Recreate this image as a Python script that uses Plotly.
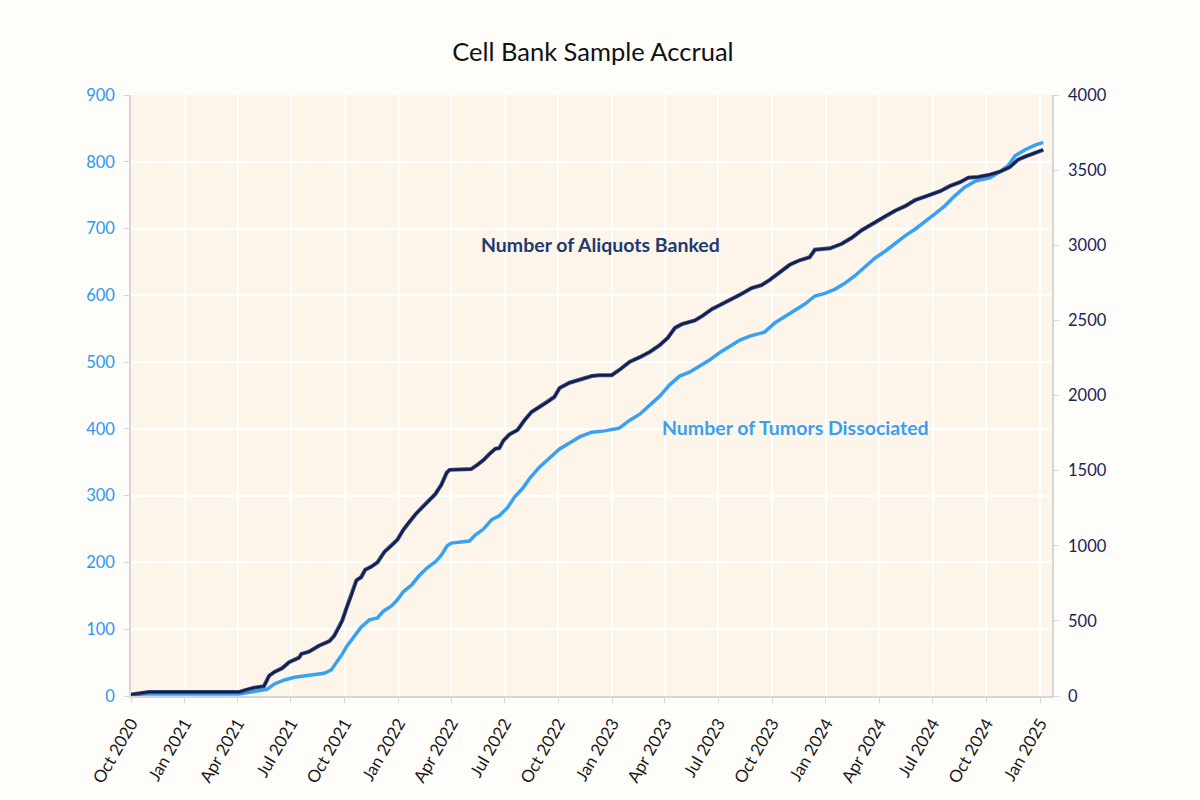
import plotly.graph_objects as go

# Number of Aliquots Banked (right axis)
aliquot_dates = [
    "2020-10-01", "2020-10-23", "2020-11-01", "2021-04-04", "2021-04-17", "2021-04-29",
    "2021-05-16", "2021-05-25", "2021-06-03", "2021-06-16", "2021-06-28", "2021-07-15",
    "2021-07-19", "2021-08-01", "2021-08-18", "2021-09-05", "2021-09-13", "2021-09-22",
    "2021-09-27", "2021-10-04", "2021-10-12", "2021-10-21", "2021-10-29", "2021-11-05",
    "2021-11-15", "2021-11-26", "2021-12-08", "2021-12-20", "2021-12-30", "2022-01-09",
    "2022-01-19", "2022-01-30", "2022-02-09", "2022-02-23", "2022-03-05", "2022-03-15",
    "2022-03-24", "2022-03-29", "2022-05-05", "2022-05-16", "2022-05-26", "2022-06-05",
    "2022-06-15", "2022-06-22", "2022-06-29", "2022-07-09", "2022-07-23", "2022-08-04",
    "2022-08-16", "2022-08-30", "2022-09-12", "2022-09-24", "2022-10-03", "2022-10-20",
    "2022-11-06", "2022-11-27", "2022-12-10", "2022-12-31", "2023-01-13", "2023-01-31",
    "2023-02-17", "2023-03-06", "2023-03-23", "2023-04-06", "2023-04-18", "2023-04-30",
    "2023-05-22", "2023-06-04", "2023-06-20", "2023-07-03", "2023-07-21", "2023-08-07",
    "2023-08-27", "2023-09-13", "2023-09-27", "2023-10-14", "2023-10-31", "2023-11-17",
    "2023-12-04", "2023-12-13", "2024-01-08", "2024-01-28", "2024-02-14", "2024-03-02",
    "2024-03-25", "2024-04-11", "2024-04-28", "2024-05-15", "2024-06-01", "2024-06-23",
    "2024-07-14", "2024-07-31", "2024-08-17", "2024-08-31", "2024-09-17", "2024-10-07",
    "2024-10-24", "2024-11-10", "2024-11-24", "2024-12-06", "2024-12-23", "2025-01-06",
]
aliquot_values = [
    10, 25, 27, 27, 45, 55,
    65, 135, 160, 185, 225, 255,
    280, 295, 335, 365, 400, 460,
    505, 585, 665, 770, 790, 840,
    860, 890, 960, 1000, 1040, 1105,
    1160, 1210, 1250, 1305, 1345, 1405,
    1485, 1505, 1510, 1540, 1570, 1610,
    1645, 1650, 1700, 1740, 1770, 1835,
    1890, 1925, 1955, 1990, 2050, 2085,
    2105, 2130, 2135, 2135, 2170, 2225,
    2255, 2290, 2335, 2385, 2450, 2475,
    2500, 2530, 2575, 2600, 2635, 2670,
    2715, 2735, 2770, 2820, 2870, 2900,
    2920, 2970, 2980, 3010, 3050, 3100,
    3155, 3195, 3230, 3260, 3300, 3330,
    3360, 3395, 3420, 3450, 3455, 3470,
    3490, 3520, 3570, 3590, 3615, 3635,
]

# Number of Tumors Dissociated (left axis)
tumor_dates = [
    "2020-10-01", "2020-10-23", "2021-04-04", "2021-04-29", "2021-05-21", "2021-06-03",
    "2021-06-20", "2021-07-07", "2021-08-01", "2021-08-27", "2021-09-08", "2021-09-18",
    "2021-09-27", "2021-10-05", "2021-10-17", "2021-10-29", "2021-11-12", "2021-11-26",
    "2021-12-06", "2021-12-20", "2021-12-30", "2022-01-09", "2022-01-23", "2022-02-05",
    "2022-02-19", "2022-03-05", "2022-03-15", "2022-03-25", "2022-04-01", "2022-05-02",
    "2022-05-12", "2022-05-26", "2022-06-09", "2022-06-22", "2022-07-06", "2022-07-18",
    "2022-08-01", "2022-08-13", "2022-08-30", "2022-09-16", "2022-10-03", "2022-10-20",
    "2022-11-06", "2022-11-27", "2022-12-19", "2023-01-13", "2023-01-31", "2023-02-17",
    "2023-03-06", "2023-03-23", "2023-04-09", "2023-04-26", "2023-05-13", "2023-05-30",
    "2023-06-16", "2023-07-03", "2023-07-21", "2023-08-07", "2023-08-24", "2023-09-18",
    "2023-10-06", "2023-10-23", "2023-11-09", "2023-11-26", "2023-12-13", "2023-12-30",
    "2024-01-16", "2024-02-02", "2024-02-19", "2024-03-07", "2024-03-25", "2024-04-11",
    "2024-04-28", "2024-05-15", "2024-06-01", "2024-06-18", "2024-07-05", "2024-07-22",
    "2024-08-08", "2024-08-25", "2024-09-12", "2024-10-07", "2024-10-24", "2024-11-07",
    "2024-11-19", "2024-12-06", "2024-12-23", "2025-01-06",
]
tumor_values = [
    1, 3, 3, 7, 10, 18,
    24, 28, 31, 34, 39, 51,
    63, 75, 90, 103, 114, 117,
    127, 135, 144, 156, 166, 180,
    192, 201, 211, 225, 229, 232,
    241, 250, 264, 270, 282, 298,
    311, 326, 343, 356, 370, 379,
    388, 395, 397, 401, 413, 422,
    436, 449, 466, 479, 485, 494,
    503, 514, 524, 533, 539, 545,
    559, 568, 577, 587, 599, 603,
    609, 618, 629, 642, 656, 666,
    678, 689, 699, 710, 722, 734,
    749, 762, 771, 776, 785, 794,
    809, 818, 825, 829,
]

tick_dates = [
    "2020-10-01", "2021-01-01", "2021-04-01", "2021-07-01", "2021-10-01", "2022-01-01",
    "2022-04-01", "2022-07-01", "2022-10-01", "2023-01-01", "2023-04-01", "2023-07-01",
    "2023-10-01", "2024-01-01", "2024-04-01", "2024-07-01", "2024-10-01", "2025-01-01",
]
tick_labels = [
    "Oct 2020", "Jan 2021", "Apr 2021", "Jul 2021", "Oct 2021", "Jan 2022",
    "Apr 2022", "Jul 2022", "Oct 2022", "Jan 2023", "Apr 2023", "Jul 2023",
    "Oct 2023", "Jan 2024", "Apr 2024", "Jul 2024", "Oct 2024", "Jan 2025",
]

FONT = "Lato"
LIGHT = "#38A2F2"
NAVY = "#151C45"

fig = go.Figure()
fig.add_trace(go.Scatter(x=tumor_dates, y=tumor_values, mode="lines",
                         line=dict(color=LIGHT, width=3.5), yaxis="y",
                         name="Number of Tumors Dissociated", showlegend=False))
fig.add_trace(go.Scatter(x=aliquot_dates, y=aliquot_values, mode="lines",
                         line=dict(color="#3A4F8C", width=4), yaxis="y2",
                         showlegend=False, hoverinfo="skip"))
fig.add_trace(go.Scatter(x=aliquot_dates, y=aliquot_values, mode="lines",
                         line=dict(color=NAVY, width=2.2), yaxis="y2",
                         name="Number of Aliquots Banked", showlegend=False))

fig.update_layout(
    width=1200, height=800,
    margin=dict(l=131, r=148, t=95, b=104, autoexpand=False),
    paper_bgcolor="#FEFDFA",
    plot_bgcolor="#FDF5EA",
    font=dict(family=FONT, size=16, color="#222222"),
    title=dict(text="Cell Bank Sample Accrual", x=0.5015, xanchor="center",
               xref="paper", y=0.935, yanchor="middle",
               font=dict(family=FONT, size=25.5, color="#111111")),
    xaxis=dict(
        type="date", range=["2020-10-01", "2025-01-21"],
        tickvals=tick_dates, ticktext=tick_labels, tickangle=-60,
        showgrid=True, gridcolor="#FFFFFF", gridwidth=2,
        showline=True, linecolor="#D6D6D6", linewidth=1.5,
        ticks="outside", ticklen=5, tickcolor="#D6D6D6",
        ticklabelstandoff=4,
        tickfont=dict(family=FONT, size=17, color="#1A1A1A"),
        zeroline=False,
    ),
    yaxis=dict(
        range=[0, 900], tickvals=[0, 100, 200, 300, 400, 500, 600, 700, 800, 900],
        showgrid=True, gridcolor="#FFFFFF", gridwidth=2,
        showline=True, linecolor="#D6D6D6", linewidth=1.5,
        ticks="outside", ticklen=5, tickcolor="#D6D6D6",
        ticklabelstandoff=6,
        tickfont=dict(family=FONT, size=16.5, color="#2C98EE"),
        zeroline=False,
    ),
    yaxis2=dict(
        range=[0, 4000], tickvals=[0, 500, 1000, 1500, 2000, 2500, 3000, 3500, 4000],
        overlaying="y", side="right", showgrid=False,
        showline=True, linecolor="#D6D6D6", linewidth=1.5,
        ticks="outside", ticklen=5, tickcolor="#D6D6D6",
        ticklabelstandoff=6,
        tickfont=dict(family=FONT, size=16.5, color="#1B2458"),
        zeroline=False,
    ),
    annotations=[
        dict(text="<b>Number of Aliquots Banked</b>", xref="paper", yref="paper",
             x=0.51, y=0.752, xanchor="center", yanchor="middle", showarrow=False,
             font=dict(family=FONT, size=19.5, color="#1F3A6E")),
        dict(text="<b>Number of Tumors Dissociated</b>", xref="paper", yref="paper",
             x=0.721, y=0.446, xanchor="center", yanchor="middle", showarrow=False,
             font=dict(family=FONT, size=19.5, color="#3AA0EE")),
    ],
)

fig.write_html("out.html", config={"displayModeBar": False},
               post_script="document.body.style.margin='0';document.body.style.background='#FEFDFA';")
